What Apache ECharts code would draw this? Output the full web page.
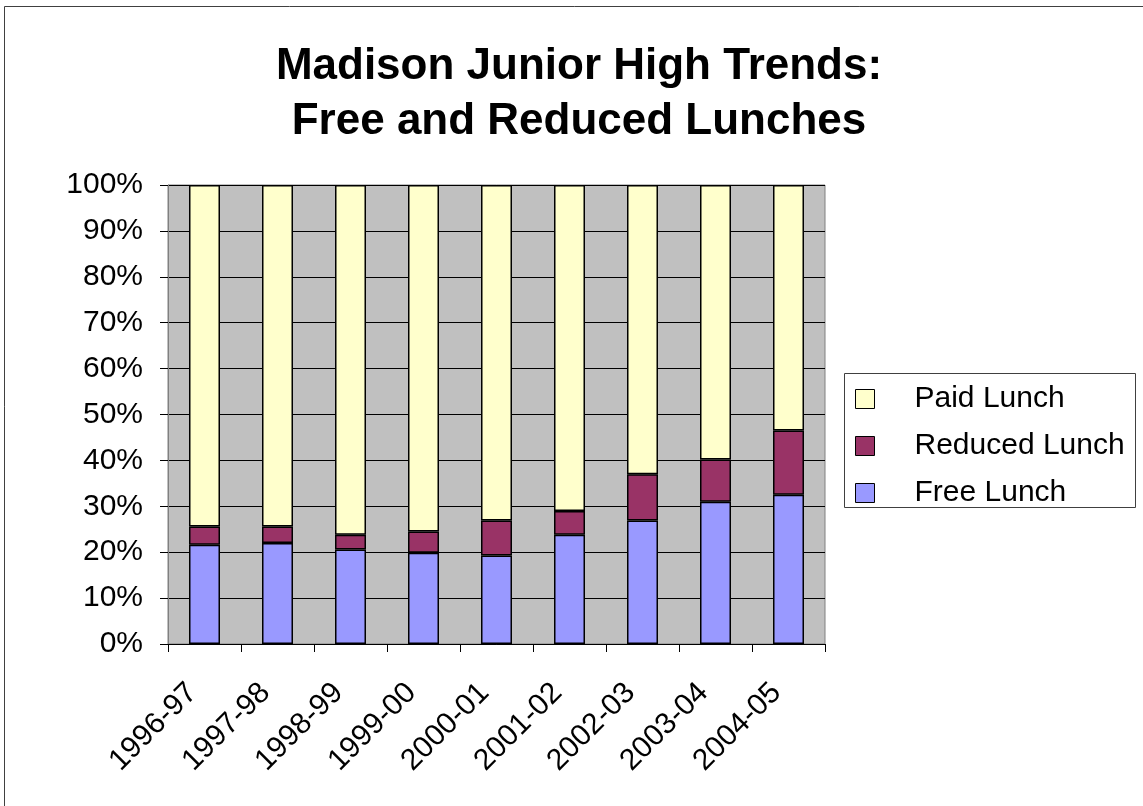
<!DOCTYPE html>
<html>
<head>
<meta charset="utf-8">
<script src="https://cdn.jsdelivr.net/npm/echarts@6/dist/echarts.min.js"></script>
<style>html,body{margin:0;padding:0;background:#fff;}#c{width:1143px;height:806px;}</style>
</head>
<body>
<div id="c"></div>
<script>
const categories = ['1996-97','1997-98','1998-99','1999-00','2000-01','2001-02','2002-03','2003-04','2004-05'];
const freeLunch = [21.6, 22.0, 20.6, 19.9, 19.3, 23.8, 26.9, 31.0, 32.5];
const reducedLunch = [4.0, 3.6, 3.2, 4.6, 7.6, 5.2, 10.1, 9.2, 14.0];
const paidLunch = [74.4, 74.4, 76.2, 75.5, 73.1, 71.0, 63.0, 59.8, 53.5];
const seriesNames = ['Free Lunch', 'Reduced Lunch', 'Paid Lunch'];
const legendOrder = ['Paid Lunch', 'Reduced Lunch', 'Free Lunch'];
const titleText = 'Madison Junior High Trends:\nFree and Reduced Lunches';

const FONT = '"Liberation Sans", Arial, sans-serif';
const chart = echarts.init(document.getElementById('c'), null, {renderer: 'canvas'});
const barStyle = (color) => ({color: color, borderColor: '#000', borderWidth: 1.5});
chart.setOption({
  animation: false,
  backgroundColor: '#fff',
  graphic: [
    {type: 'rect', shape: {x: 4.5, y: 6.5, width: 1300, height: 1000}, style: {fill: 'none', stroke: '#404040', lineWidth: 1}, z: -10},
    {type: 'rect', shape: {x: 844.5, y: 373.5, width: 291, height: 134}, style: {fill: '#fff', stroke: '#404040', lineWidth: 1}, z: -5}
  ],
  title: {
    text: titleText,
    left: 574, top: 34, textAlign: 'center',
    textStyle: {fontFamily: FONT, fontSize: 44, fontWeight: 'bold', color: '#000', lineHeight: 55}
  },
  legend: {
    orient: 'vertical', left: 844, top: 373,
    padding: [11, 8, 6, 11],
    data: legendOrder,
    itemWidth: 19, itemHeight: 19, itemGap: 17,
    icon: 'rect',
    itemStyle: {borderColor: '#000', borderWidth: 1},
    textStyle: {fontFamily: FONT, fontSize: 30, color: '#000', lineHeight: 28, padding: [0, 0, 0, 35]}
  },
  grid: {left: 168, top: 185, right: 318, bottom: 162, show: true, backgroundColor: '#c0c0c0', borderColor: '#808080', borderWidth: 1},
  xAxis: {
    type: 'category', data: categories,
    axisLine: {show: true, lineStyle: {color: '#000', width: 1}},
    axisTick: {show: true, length: 8, lineStyle: {color: '#000'}},
    axisLabel: {rotate: 45, margin: 32, padding: [0, 17, 0, 0], fontFamily: FONT, fontSize: 30, color: '#000'}
  },
  yAxis: {
    type: 'value', min: 0, max: 100, interval: 10,
    axisLine: {show: true, lineStyle: {color: '#808080'}},
    axisTick: {show: true, length: 8, lineStyle: {color: '#000'}},
    splitLine: {show: true, lineStyle: {color: '#000', width: 1}},
    axisLabel: {formatter: '{value}%', margin: 25, fontFamily: FONT, fontSize: 30, color: '#000'}
  },
  series: [
    {name: seriesNames[0], type: 'bar', stack: 'a', data: freeLunch, barWidth: 31, itemStyle: barStyle('#9999ff')},
    {name: seriesNames[1], type: 'bar', stack: 'a', data: reducedLunch, barWidth: 31, itemStyle: barStyle('#993366')},
    {name: seriesNames[2], type: 'bar', stack: 'a', data: paidLunch, barWidth: 31, itemStyle: barStyle('#ffffcc')}
  ]
});
</script>
</body>
</html>
